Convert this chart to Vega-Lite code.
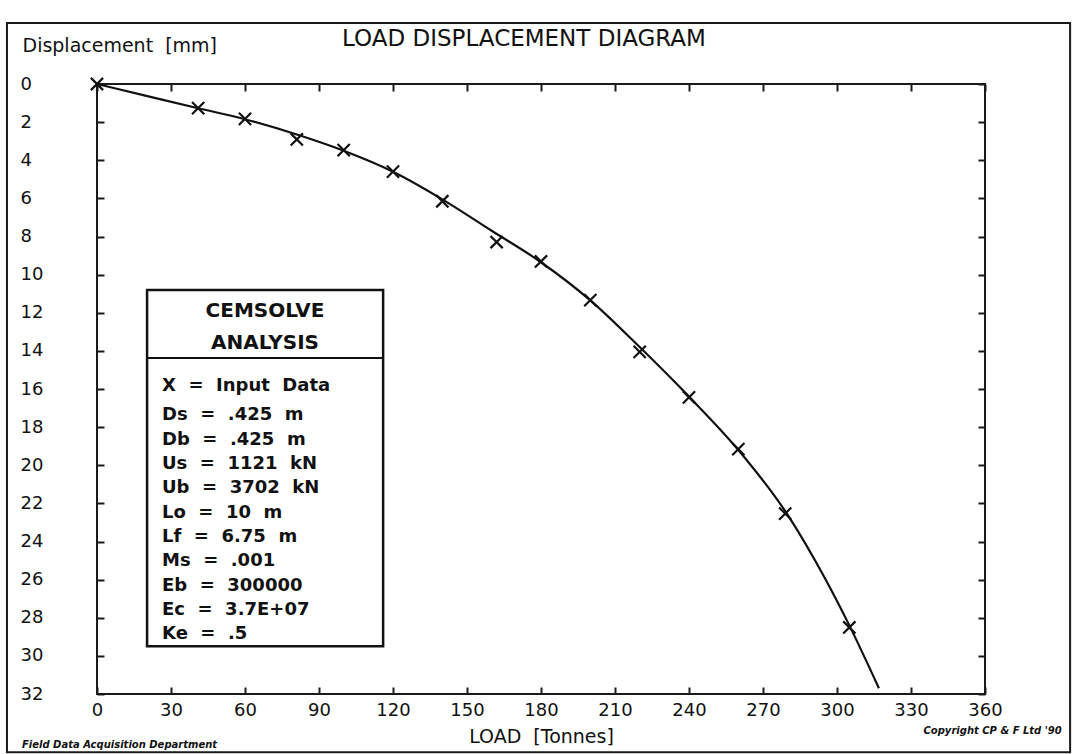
{
  "$schema": "https://vega.github.io/schema/vega-lite/v6.json",
  "width": 888,
  "height": 610,
  "autosize": {"type": "none"},
  "padding": {"left": 97, "top": 84, "right": 93, "bottom": 60},
  "background": "#ffffff",
  "config": {
    "view": {"stroke": "#1a1a1a", "strokeWidth": 2},
    "font": "DejaVu Sans",
    "axis": {
      "grid": false,
      "domain": false,
      "tickColor": "#1a1a1a",
      "tickWidth": 2,
      "labelColor": "#111111",
      "titleColor": "#111111",
      "labelFont": "DejaVu Sans",
      "titleFont": "DejaVu Sans",
      "labelFontSize": 18,
      "titleFontWeight": "normal",
      "labelFlush": false,
      "labelOverlap": false
    }
  },
  "title": {
    "text": "LOAD DISPLACEMENT DIAGRAM",
    "font": "DejaVu Sans",
    "fontSize": 23,
    "fontWeight": "normal",
    "color": "#111111",
    "anchor": "middle",
    "frame": "group",
    "dx": -17,
    "offset": -29
  },
  "datasets": {
    "input": [
      {"load": 0, "disp": 0},
      {"load": 41, "disp": 1.27},
      {"load": 60, "disp": 1.83},
      {"load": 81, "disp": 2.91},
      {"load": 100, "disp": 3.47},
      {"load": 120, "disp": 4.6},
      {"load": 140, "disp": 6.15},
      {"load": 162, "disp": 8.29},
      {"load": 180, "disp": 9.31},
      {"load": 200, "disp": 11.34},
      {"load": 220, "disp": 14.05},
      {"load": 240, "disp": 16.44},
      {"load": 260, "disp": 19.15},
      {"load": 279, "disp": 22.54},
      {"load": 305, "disp": 28.51}
    ],
    "curve": [
      {"load": 0, "disp": 0},
      {"load": 20, "disp": 0.62},
      {"load": 41, "disp": 1.27},
      {"load": 60, "disp": 1.85},
      {"load": 81, "disp": 2.65},
      {"load": 100, "disp": 3.5},
      {"load": 120, "disp": 4.6},
      {"load": 140, "disp": 6.05},
      {"load": 160, "disp": 7.7},
      {"load": 180, "disp": 9.35},
      {"load": 200, "disp": 11.35},
      {"load": 220, "disp": 13.8},
      {"load": 240, "disp": 16.4},
      {"load": 260, "disp": 19.2},
      {"load": 280, "disp": 22.6},
      {"load": 295, "disp": 25.9},
      {"load": 305, "disp": 28.4},
      {"load": 317, "disp": 31.7}
    ]
  },
  "layer": [
    {
      "data": {"values": [{}]},
      "mark": {"type": "rect", "filled": false, "stroke": "#1a1a1a", "strokeWidth": 2},
      "encoding": {
        "x": {"datum": -36.5, "type": "quantitative", "axis": null},
        "x2": {"datum": 394.5},
        "y": {"datum": -3.2, "type": "quantitative", "axis": null},
        "y2": {"datum": 35.05}
      }
    },
    {
      "data": {"name": "curve"},
      "mark": {"type": "line", "color": "#111111", "strokeWidth": 2.2, "interpolate": "monotone"},
      "encoding": {
        "x": {
          "field": "load", "type": "quantitative",
          "scale": {"domain": [0, 360], "nice": false, "zero": false},
          "axis": {
            "orient": "bottom",
            "values": [0, 30, 60, 90, 120, 150, 180, 210, 240, 270, 300, 330, 360],
            "tickSize": -7,
            "labelPadding": 14,
            "title": "LOAD\u00a0 [Tonnes]",
            "titleFontSize": 19,
            "titleBaseline": "middle",
            "titleY": 42
          }
        },
        "y": {
          "field": "disp", "type": "quantitative",
          "scale": {"domain": [0, 32], "nice": false, "zero": false, "reverse": true},
          "axis": {
            "orient": "left",
            "values": [0, 2, 4, 6, 8, 10, 12, 14, 16, 18, 20, 22, 24, 26, 28, 30, 32],
            "tickSize": -7,
            "labelAlign": "left",
            "labelBaseline": "middle",
            "labelPadding": 84,
            "title": "Displacement\u00a0 [mm]",
            "titleFontSize": 19,
            "titleAngle": 0,
            "titleAlign": "left",
            "titleBaseline": "middle",
            "titleX": -75,
            "titleY": -39
          }
        }
      }
    },
    {
      "data": {"name": "input"},
      "mark": {"type": "point", "shape": "M-1,-1L1,1M-1,1L1,-1", "filled": false, "stroke": "#111111", "strokeWidth": 2.2, "size": 150, "opacity": 1},
      "encoding": {
        "x": {
          "field": "load", "type": "quantitative",
          "axis": {
            "orient": "top",
            "values": [0, 30, 60, 90, 120, 150, 180, 210, 240, 270, 300, 330, 360],
            "tickSize": -7,
            "labels": false,
            "title": null
          }
        },
        "y": {
          "field": "disp", "type": "quantitative",
          "axis": {
            "orient": "right",
            "values": [0, 2, 4, 6, 8, 10, 12, 14, 16, 18, 20, 22, 24, 26, 28, 30, 32],
            "tickSize": -7,
            "labels": false,
            "title": null
          }
        }
      }
    },
    {
      "data": {"values": [{}]},
      "mark": {"type": "rect", "fill": "#ffffff", "stroke": "#111111", "strokeWidth": 2.5},
      "encoding": {
        "x": {"datum": 20.3, "type": "quantitative", "axis": null},
        "x2": {"datum": 116.0},
        "y": {"datum": 10.8, "type": "quantitative", "axis": null},
        "y2": {"datum": 29.5}
      }
    },
    {
      "data": {"values": [{}]},
      "mark": {"type": "rule", "stroke": "#111111", "strokeWidth": 2},
      "encoding": {
        "x": {"datum": 20.3, "type": "quantitative", "axis": null},
        "x2": {"datum": 116.0},
        "y": {"datum": 14.37, "type": "quantitative", "axis": null}
      }
    },
    {
      "data": {"values": [{}]},
      "mark": {"type": "text", "text": ["CEMSOLVE", "ANALYSIS"], "font": "DejaVu Sans", "fontWeight": "bold", "fontSize": 20, "lineHeight": 32, "align": "center", "baseline": "alphabetic", "color": "#111111"},
      "encoding": {
        "x": {"datum": 68.1, "type": "quantitative", "axis": null},
        "y": {"datum": 12.24, "type": "quantitative", "axis": null}
      }
    },
    {
      "data": {"values": [{}]},
      "mark": {"type": "text", "text": "X\u00a0 =\u00a0 Input\u00a0 Data", "font": "DejaVu Sans", "fontWeight": "bold", "fontSize": 18, "align": "left", "baseline": "alphabetic", "color": "#111111"},
      "encoding": {
        "x": {"datum": 26.35, "type": "quantitative", "axis": null},
        "y": {"datum": 16.08, "type": "quantitative", "axis": null}
      }
    },
    {
      "data": {"values": [{}]},
      "mark": {"type": "text", "text": ["Ds\u00a0 =\u00a0 .425\u00a0 m", "Db\u00a0 =\u00a0 .425\u00a0 m", "Us\u00a0 =\u00a0 1121\u00a0 kN", "Ub\u00a0 =\u00a0 3702\u00a0 kN", "Lo\u00a0 =\u00a0 10\u00a0 m", "Lf\u00a0 =\u00a0 6.75\u00a0 m", "Ms\u00a0 =\u00a0 .001", "Eb\u00a0 =\u00a0 300000", "Ec\u00a0 =\u00a0 3.7E+07", "Ke\u00a0 =\u00a0 .5"], "font": "DejaVu Sans", "fontWeight": "bold", "fontSize": 18, "lineHeight": 24.3, "align": "left", "baseline": "alphabetic", "color": "#111111"},
      "encoding": {
        "x": {"datum": 26.35, "type": "quantitative", "axis": null},
        "y": {"datum": 17.65, "type": "quantitative", "axis": null}
      }
    },
    {
      "data": {"values": [{}]},
      "mark": {"type": "text", "text": "Field Data Acquisition Department", "font": "DejaVu Sans", "fontWeight": "bold", "fontStyle": "italic", "fontSize": 10, "align": "left", "baseline": "middle", "color": "#111111"},
      "encoding": {
        "x": {"datum": -30.4, "type": "quantitative", "axis": null},
        "y": {"datum": 34.68, "type": "quantitative", "axis": null}
      }
    },
    {
      "data": {"values": [{}]},
      "mark": {"type": "text", "text": "Copyright CP & F Ltd '90", "font": "DejaVu Sans", "fontWeight": "bold", "fontStyle": "italic", "fontSize": 10, "align": "right", "baseline": "middle", "color": "#111111"},
      "encoding": {
        "x": {"datum": 391.1, "type": "quantitative", "axis": null},
        "y": {"datum": 33.94, "type": "quantitative", "axis": null}
      }
    }
  ],
  "resolve": {"axis": {"x": "independent", "y": "independent"}}
}
